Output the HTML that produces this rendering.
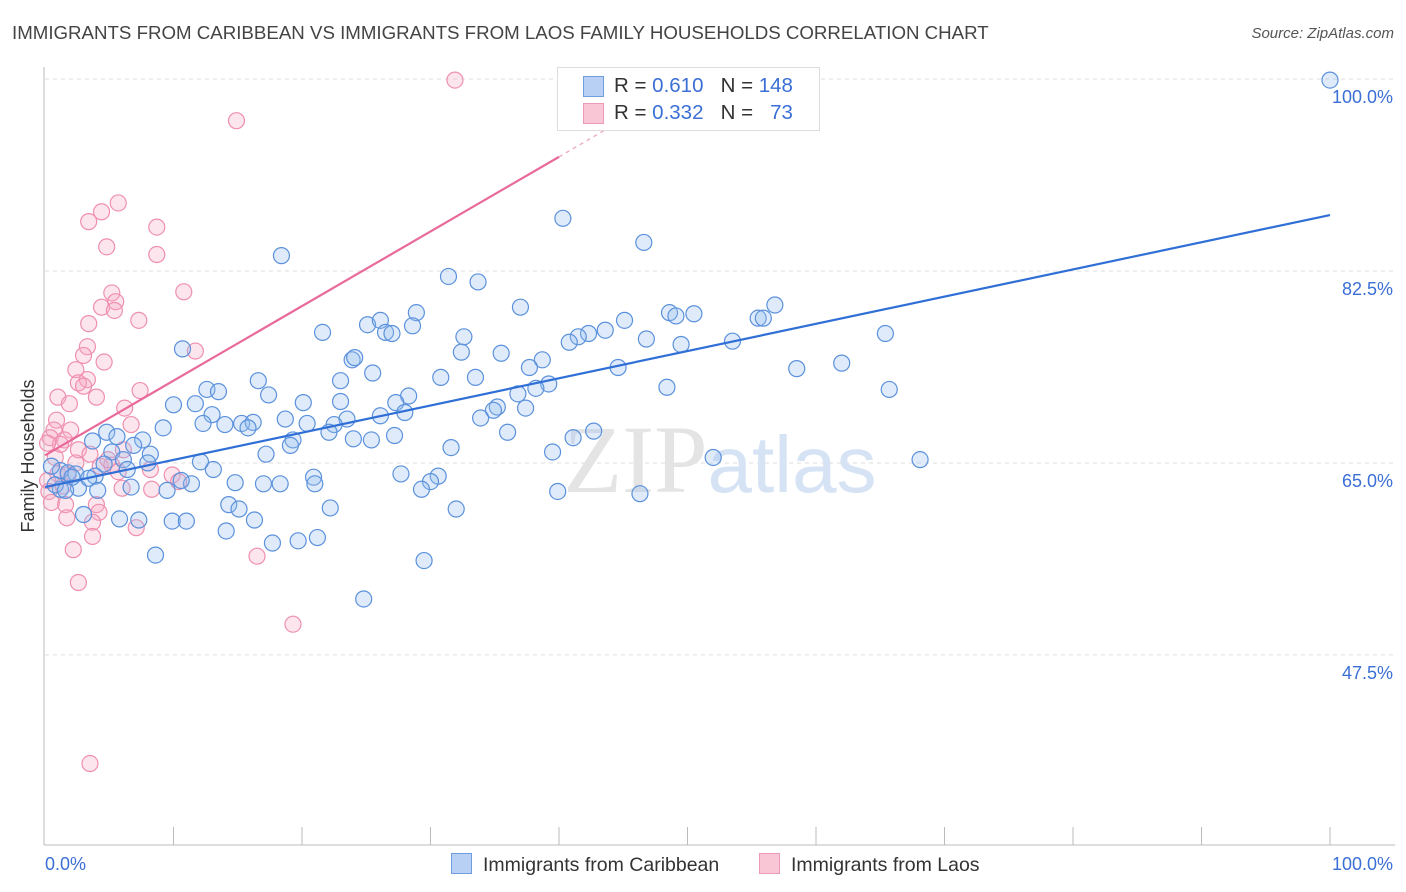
<!DOCTYPE html>
<html><head><meta charset="utf-8">
<style>
body{margin:0;background:#fff;font-family:"Liberation Sans",sans-serif;}
#wrap{position:relative;width:1406px;height:892px;overflow:hidden;}
.t{position:absolute;white-space:nowrap;}
</style></head>
<body>
<div id="wrap">
<div class="t" style="left:12px;top:22px;font-size:18.7px;color:#444;">IMMIGRANTS FROM CARIBBEAN VS IMMIGRANTS FROM LAOS FAMILY HOUSEHOLDS CORRELATION CHART</div>
<div class="t" style="right:12px;top:25px;font-size:15px;color:#555;font-style:italic;">Source: ZipAtlas.com</div>
<svg id="svg" width="1406" height="892" style="position:absolute;left:0;top:0"></svg>
</div>
<script>
const yTicks=[47.5,65,82.5,100];
const yTickLabels=["47.5%","65.0%","82.5%","100.0%"];
const xAxisLabels=["0.0%","100.0%"];
const blueX=[100,40.3,46.6,18.4,31.4,33.7,37.0,56.8,48.6,50.5,49.1,55.5,55.9,45.1,28.9,25.1,26.1,28.6,43.6,42.3,41.5,40.8,21.6,26.5,27.0,32.6,65.4,46.8,53.5,49.5,10.7,32.4,35.5,23.9,24.1,38.7,37.7,62.0,58.5,25.5,44.6,30.8,33.5,16.6,23.0,39.2,38.2,48.4,12.6,13.5,17.4,65.7,28.3,36.8,11.7,10.0,20.1,23.0,27.3,35.2,34.9,37.4,28.0,13.0,26.1,33.9,23.5,18.7,20.4,12.3,15.3,16.2,14.0,22.5,15.8,9.2,4.8,22.1,36.0,42.7,7.6,5.6,3.7,27.2,24.0,25.4,19.3,19.1,41.1,6.9,31.6,5.2,8.2,17.2,39.5,52.0,68.1,6.1,8.0,12.1,4.6,6.4,13.1,1.2,1.8,2.4,3.9,20.9,27.7,30.6,21.0,14.8,17.0,18.3,30.0,11.4,10.6,6.7,9.5,2.6,1.2,4.1,29.3,39.9,46.3,14.3,15.1,22.2,32.0,3.0,5.8,7.3,9.9,11.0,16.3,14.1,21.2,19.7,17.7,8.6,29.5,24.8,0.5,0.8,2.1,3.4,1.6];
const blueY=[99.9,87.3,85.1,83.9,82.0,81.5,79.2,79.4,78.7,78.6,78.4,78.2,78.2,78.0,78.7,77.6,78.0,77.5,77.1,76.8,76.5,76.0,76.9,76.9,76.8,76.5,76.8,76.3,76.1,75.8,75.4,75.1,75.0,74.4,74.6,74.4,73.7,74.1,73.6,73.2,73.7,72.8,72.8,72.5,72.5,72.2,71.8,71.9,71.7,71.5,71.2,71.7,71.1,71.3,70.4,70.3,70.5,70.6,70.5,70.1,69.8,70.0,69.6,69.4,69.3,69.1,69.0,69.0,68.6,68.6,68.6,68.7,68.5,68.5,68.2,68.2,67.8,67.8,67.8,67.9,67.1,67.4,67.0,67.5,67.2,67.1,67.1,66.6,67.3,66.6,66.4,66.0,65.8,65.8,66.0,65.5,65.3,65.3,65.0,65.1,64.9,64.4,64.4,64.3,64.1,64.0,63.8,63.7,64.0,63.8,63.1,63.2,63.1,63.1,63.3,63.1,63.4,62.8,62.5,62.7,62.6,62.5,62.6,62.4,62.2,61.2,60.8,60.9,60.8,60.3,59.9,59.8,59.7,59.7,59.8,58.8,58.2,57.9,57.7,56.6,56.1,52.6,64.7,63.0,63.7,63.6,62.5];
const pinkX=[31.9,14.9,5.7,4.4,3.4,8.7,4.8,8.7,10.8,5.2,5.5,4.4,5.4,7.3,3.4,3.3,11.7,3.0,4.6,2.4,3.3,2.6,3.0,7.4,1.0,4.0,1.9,6.2,0.9,6.7,0.7,2.0,0.4,1.5,1.2,0.2,2.6,3.5,6.1,0.8,2.4,4.3,5.2,8.2,9.9,5.7,1.0,1.8,0.2,1.4,6.0,8.3,0.3,0.5,4.0,1.6,4.2,1.7,3.7,7.1,3.7,2.2,16.5,2.6,19.3,3.5,10.4,4.9];
const pinkY=[99.9,96.2,88.7,87.9,87.0,86.5,84.7,84.0,80.6,80.5,79.7,79.2,78.9,78.0,77.7,75.6,75.2,74.8,74.2,73.5,72.6,72.3,72.0,71.6,71.0,71.0,70.4,70.0,68.9,68.5,68.0,68.0,67.3,67.1,66.7,66.8,66.2,65.8,66.2,65.5,65.0,64.7,64.8,64.4,63.9,64.2,64.0,63.9,63.4,62.9,62.7,62.6,62.4,61.4,61.2,61.2,60.5,60.0,59.6,59.1,58.3,57.1,56.5,54.1,50.3,37.6,63.3,65.3];
const blueTrend=[[0,62.8],[100,87.6]];
const pinkTrend=[[0,65.7],[40,92.9]];
const pinkTrendDash=[[40,92.9],[43.5,95.3]];

const NS="http://www.w3.org/2000/svg";
const svg=document.getElementById('svg');
const X=v=>45+v*12.85;
const Y=v=>79+(100-v)*10.97;
function mk(t,a){const e=document.createElementNS(NS,t);for(const k in a)e.setAttribute(k,a[k]);svg.appendChild(e);return e;}
yTicks.forEach((v,i)=>{
 const g=mk('line',{x1:45,x2:1395,y1:Y(v),y2:Y(v),stroke:'#ddd','stroke-dasharray':'4,4'});
 
 
 const t=mk('text',{x:1393,y:Y(v)+24,'text-anchor':'end','font-size':18,fill:'#3b6fd6','font-family':'Liberation Sans, sans-serif'});
 t.textContent=yTickLabels[i];
 
 
});
const yAxisLine=mk('line',{x1:44,x2:44,y1:67,y2:845,stroke:'#bbb'});


const xAxisLine=mk('line',{x1:44,x2:1395,y1:845,y2:845,stroke:'#bbb'});


for(let i=1;i<=10;i++){const l=mk('line',{x1:X(i*10),x2:X(i*10),y1:827,y2:845,stroke:'#bbb'});
 
 }
const xl0=mk('text',{x:45,y:870,'font-size':18,fill:'#3b6fd6','font-family':'Liberation Sans, sans-serif'});xl0.textContent=xAxisLabels[0];


const xl1=mk('text',{x:1393,y:870,'font-size':18,fill:'#3b6fd6','text-anchor':'end','font-family':'Liberation Sans, sans-serif'});xl1.textContent=xAxisLabels[1];


const yt=mk('text',{x:34,y:456,'font-size':18,fill:'#333','text-anchor':'middle',transform:'rotate(-90 34 456)','font-family':'Liberation Sans, sans-serif'});yt.textContent='Family Households';


const wm=mk('text',{x:720,y:492,'font-size':96,'text-anchor':'middle','font-family':'Liberation Serif, serif',fill:'#e4e4e4'});
wm.innerHTML='ZIP<tspan fill="#d5e3f5" font-family="Liberation Sans, sans-serif" font-size="80">atlas</tspan>';


pinkX.forEach((v,i)=>{const c=mk('circle',{cx:X(v),cy:Y(pinkY[i]),r:8,fill:'rgba(248,170,195,0.3)',stroke:'#ef8fb0','stroke-width':1.2});
 
 });
blueX.forEach((v,i)=>{const c=mk('circle',{cx:X(v),cy:Y(blueY[i]),r:8,fill:'rgba(150,190,240,0.3)',stroke:'#5b91dc','stroke-width':1.2});
 
 });
const bt=mk('line',{x1:X(blueTrend[0][0]),y1:Y(blueTrend[0][1]),x2:X(blueTrend[1][0]),y2:Y(blueTrend[1][1]),stroke:'#2f6fd6','stroke-width':2.2});


const pt=mk('line',{x1:X(pinkTrend[0][0]),y1:Y(pinkTrend[0][1]),x2:X(pinkTrend[1][0]),y2:Y(pinkTrend[1][1]),stroke:'#e8699a','stroke-width':2.2});


const pd=mk('line',{x1:X(pinkTrendDash[0][0]),y1:Y(pinkTrendDash[0][1]),x2:X(pinkTrendDash[1][0]),y2:Y(pinkTrendDash[1][1]),stroke:'#f0b0c8','stroke-width':1.5,'stroke-dasharray':'4,4'});


</script>
<div class="t" style="left:557px;top:67px;width:261px;height:62px;border:1px solid #ddd;background:#fff;"></div>
<div class="t" style="left:583px;top:76px;width:19px;height:19px;background:#b8d0f4;border:1px solid #6f9de0;"></div>
<div class="t" style="left:583px;top:103px;width:19px;height:19px;background:#f9c6d6;border:1px solid #ec9ab6;"></div>
<div class="t" style="left:614px;top:74px;font-size:20.5px;color:#333;">R = <span style="color:#3b6fd6">0.610</span>&nbsp;&nbsp;&nbsp;N = <span style="color:#3b6fd6">148</span></div>
<div class="t" style="left:614px;top:101px;font-size:20.5px;color:#333;">R = <span style="color:#3b6fd6">0.332</span>&nbsp;&nbsp;&nbsp;N = <span style="color:#3b6fd6">&nbsp;&nbsp;73</span></div>
<div class="t" style="left:451px;top:853px;font-size:19.5px;color:#333;"><span style="display:inline-block;width:19px;height:19px;background:#b8d0f4;border:1px solid #6f9de0;vertical-align:-3px;margin-right:11px;"></span>Immigrants from Caribbean</div>
<div class="t" style="left:759px;top:853px;font-size:19.5px;color:#333;"><span style="display:inline-block;width:19px;height:19px;background:#f9c6d6;border:1px solid #ec9ab6;vertical-align:-3px;margin-right:11px;"></span>Immigrants from Laos</div>
</body></html>
